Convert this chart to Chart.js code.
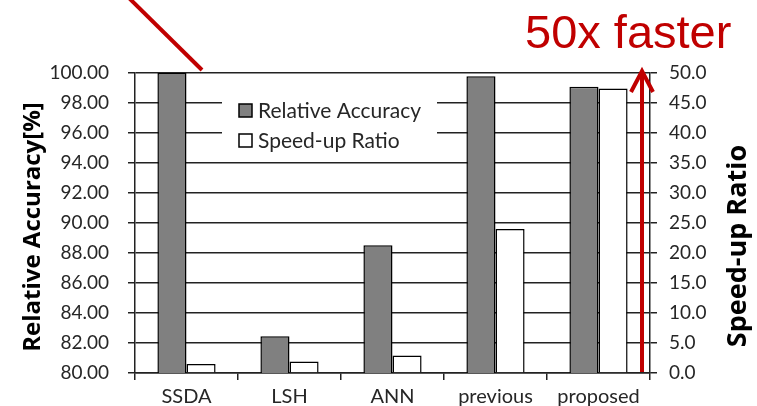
<!DOCTYPE html>
<html>
<head>
<meta charset="utf-8">
<script src="https://cdn.jsdelivr.net/npm/chart.js@4.4.1/dist/chart.umd.min.js"></script>
<style>
  html, body { margin: 0; padding: 0; background: #fff; }
  canvas { display: block; }
</style>
</head>
<body>
<canvas id="chart" width="757" height="406"></canvas>
<script>
const categories = ["SSDA", "LSH", "ANN", "previous", "proposed"];
const accuracy = [100.0, 82.45, 88.52, 99.79, 99.08];
const speedup = [1.5, 1.9, 2.9, 24.0, 47.4];
const accuracyTicks = [80, 100, 2];
const speedupTicks = [0, 50, 5];

const textColor = "#262626";
const gridColor = "#222";
const red = "#C00000";
const baseFont = "Lato, 'Open Sans', sans-serif";

// legend drawn inside the plot, on a white box covering the grid
const boxLegend = {
  id: "boxLegend",
  beforeDatasetsDraw(chart) {
    const ctx = chart.ctx;
    const a = chart.chartArea;
    const x0 = a.left + 87, y0 = a.top + 13;
    ctx.save();
    ctx.fillStyle = "#fff";
    ctx.fillRect(x0, y0, 215, 70);
    chart.data.datasets.forEach(function (ds, i) {
      const y = y0 + 18 + i * 30;
      ctx.fillStyle = ds.backgroundColor;
      ctx.fillRect(x0 + 17, y, 13, 13);
      ctx.strokeStyle = "#000";
      ctx.lineWidth = 1.5;
      ctx.strokeRect(x0 + 17, y, 13, 13);
      ctx.fillStyle = textColor;
      ctx.font = "21px " + baseFont;
      ctx.textBaseline = "middle";
      ctx.fillText(ds.label, x0 + 36, y + 7);
    });
    ctx.restore();
  }
};

function drawTitle(ctx, text, x, y, size) {
  ctx.save();
  ctx.fillStyle = "#000";
  ctx.font = "bold " + size + "px 'Open Sans', sans-serif";
  ctx.textAlign = "center";
  ctx.textBaseline = "middle";
  ctx.translate(x, y);
  ctx.rotate(-Math.PI / 2);
  ctx.fillText(text, 0, 0);
  ctx.restore();
}

// axis titles and red annotations
const extras = {
  id: "extras",
  afterDraw(chart) {
    const ctx = chart.ctx;
    const a = chart.chartArea;
    drawTitle(ctx, "Relative Accuracy[%]", 33, 227, 24);
    drawTitle(ctx, "Speed-up Ratio", 738, 246, 27);

    ctx.save();
    ctx.strokeStyle = red;
    ctx.lineWidth = 4;
    ctx.beginPath();
    ctx.moveTo(a.left - 6, -2);
    ctx.lineTo(a.left + 67, a.top - 3);
    ctx.stroke();

    const ax = a.right - 8;
    ctx.beginPath();
    ctx.moveTo(ax, a.bottom - 1);
    ctx.lineTo(ax, a.top + 1);
    ctx.stroke();
    ctx.beginPath();
    ctx.moveTo(ax - 11, a.top + 19);
    ctx.lineTo(ax, a.top - 2);
    ctx.lineTo(ax + 11, a.top + 19);
    ctx.stroke();

    ctx.fillStyle = red;
    ctx.font = "47px 'Liberation Sans', Arial, sans-serif";
    ctx.textBaseline = "alphabetic";
    ctx.fillText("50x faster", 525, 48);
    ctx.restore();
  }
};

new Chart(document.getElementById("chart"), {
  type: "bar",
  data: {
    labels: categories,
    datasets: [
      {
        label: "Relative Accuracy",
        data: accuracy,
        yAxisID: "y",
        backgroundColor: "#808080",
        borderColor: "#000",
        borderWidth: 1.5,
        categoryPercentage: 0.565,
        barPercentage: 1.0
      },
      {
        label: "Speed-up Ratio",
        data: speedup,
        yAxisID: "y2",
        backgroundColor: "#ffffff",
        borderColor: "#000",
        borderWidth: 1.5,
        categoryPercentage: 0.565,
        barPercentage: 1.0
      }
    ]
  },
  options: {
    responsive: false,
    animation: false,
    layout: { padding: { top: 73, left: 0, right: 0, bottom: 0 } },
    plugins: {
      legend: { display: false },
      tooltip: { enabled: false }
    },
    scales: {
      x: {
        offset: true,
        grid: {
          offset: true,
          drawOnChartArea: false,
          drawTicks: true,
          tickLength: 7,
          color: gridColor,
          lineWidth: 1.5
        },
        border: { color: gridColor, width: 1.5 },
        ticks: { color: textColor, font: { family: baseFont, size: 20 }, padding: 5, maxRotation: 0 },
        afterFit(scale) { scale.height = 33; }
      },
      y: {
        position: "left",
        min: accuracyTicks[0],
        max: accuracyTicks[1],
        ticks: {
          stepSize: accuracyTicks[2],
          color: textColor,
          font: { family: baseFont, size: 19 },
          padding: 19,
          callback: function (v) { return v.toFixed(2); }
        },
        grid: { color: gridColor, lineWidth: 1.5, tickLength: 7 },
        border: { color: gridColor, width: 1.5 },
        afterFit(scale) { scale.width = 135; }
      },
      y2: {
        position: "right",
        min: speedupTicks[0],
        max: speedupTicks[1],
        ticks: {
          stepSize: speedupTicks[2],
          color: textColor,
          font: { family: baseFont, size: 19 },
          padding: 12,
          callback: function (v) { return v.toFixed(1); }
        },
        grid: { drawOnChartArea: false, color: gridColor, lineWidth: 1.5, tickLength: 7 },
        border: { color: gridColor, width: 1.5 },
        afterFit(scale) { scale.width = 107; }
      }
    }
  },
  plugins: [boxLegend, extras]
});
</script>
</body>
</html>
